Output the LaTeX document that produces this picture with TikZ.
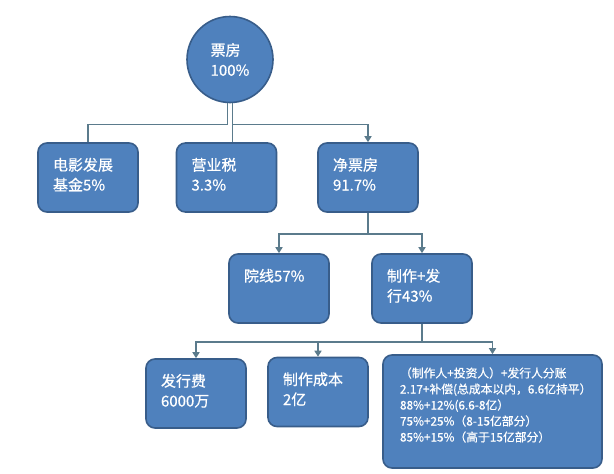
\documentclass[tikz,border=0pt]{standalone}
\usepackage{fontspec}
\newfontfamily\cjk{Noto Sans CJK SC}[FakeBold=0.6]
\usetikzlibrary{arrows.meta,calc}
\definecolor{boxfill}{HTML}{4F81BD}
\definecolor{boxline}{HTML}{385D8A}
\definecolor{connline}{HTML}{5B7B8C}
\begin{document}
\begin{tikzpicture}[x=1pt,y=-1pt,
  box/.style={draw=boxline, fill=boxfill, line width=1.6pt, rounded corners=9pt,
    text=white, align=left, inner xsep=15pt, inner ysep=8pt,
    font=\cjk\fontsize{15}{20}\selectfont,
    text width=70pt, text height=19.5pt, text depth=33.5pt},
  bigbox/.style={box, inner xsep=17pt, text width=185pt,
    font=\cjk\fontsize{11.8}{16}\selectfont,
    text height=14.5pt, text depth=82.5pt},
  roundnode/.style={circle, draw=boxline, fill=boxfill, line width=1.6pt,
    text=white, align=left, minimum size=86pt, inner sep=0pt,
    font=\cjk\fontsize{15}{20}\selectfont},
  conn/.style={draw=connline, line width=1.5pt},
  arr/.style={conn, -{Triangle[width=7pt,length=6pt]}}]
\useasboundingbox (0,0) rectangle (614,474);
\fill[white] (0,0) rectangle (614,474);

\node[roundnode] (pf) at (230,59.5) {票房\\100\%};

\node[box] (dy) at (88,177.5) {电影发展\\基金5\%};
\node[box] (yy) at (226.5,177.5) {营业税\\3.3\%};
\node[box] (jpf) at (368,177.5) {净票房\\91.7\%};

\node[box] (yx) at (279,288.5) {院线57\%};
\node[box] (zz) at (422,288.5) {制作+发\\行43\%};

\node[box] (fxf) at (196,393.5) {发行费\\6000万};
\node[box] (zzcb) at (318,392) {制作成本\\2亿};
\node[bigbox] (big) at (492.5,411.5) {（制作人+投资人）+发行人分账\\2.17+补偿(总成本以内，6.6亿持平）\\88\%+12\%(6.6-8亿）\\75\%+25\%（8-15亿部分）\\85\%+15\%（高于15亿部分）};

\draw[conn] ([xshift=-2.5pt]pf.south) -- ++(0,21) -| (dy.north);
\draw[conn] ([xshift=2.5pt]pf.south) -- ([xshift=2.5pt]pf.south |- yy.north);
\draw[arr] ([xshift=2.5pt]pf.south) -- ++(0,21) -| (jpf.north);

\draw[arr] (jpf.south) -- ++(0,21) -| (yx.north);
\draw[arr] (jpf.south) -- ++(0,21) -| (zz.north);

\draw[arr] (zz.south) -- ++(0,18) -| (fxf.north);
\draw[arr] (zz.south) -- ++(0,18) -| (zzcb.north);
\draw[arr] (zz.south) -- ++(0,18) -| (big.north);
\end{tikzpicture}
\end{document}
